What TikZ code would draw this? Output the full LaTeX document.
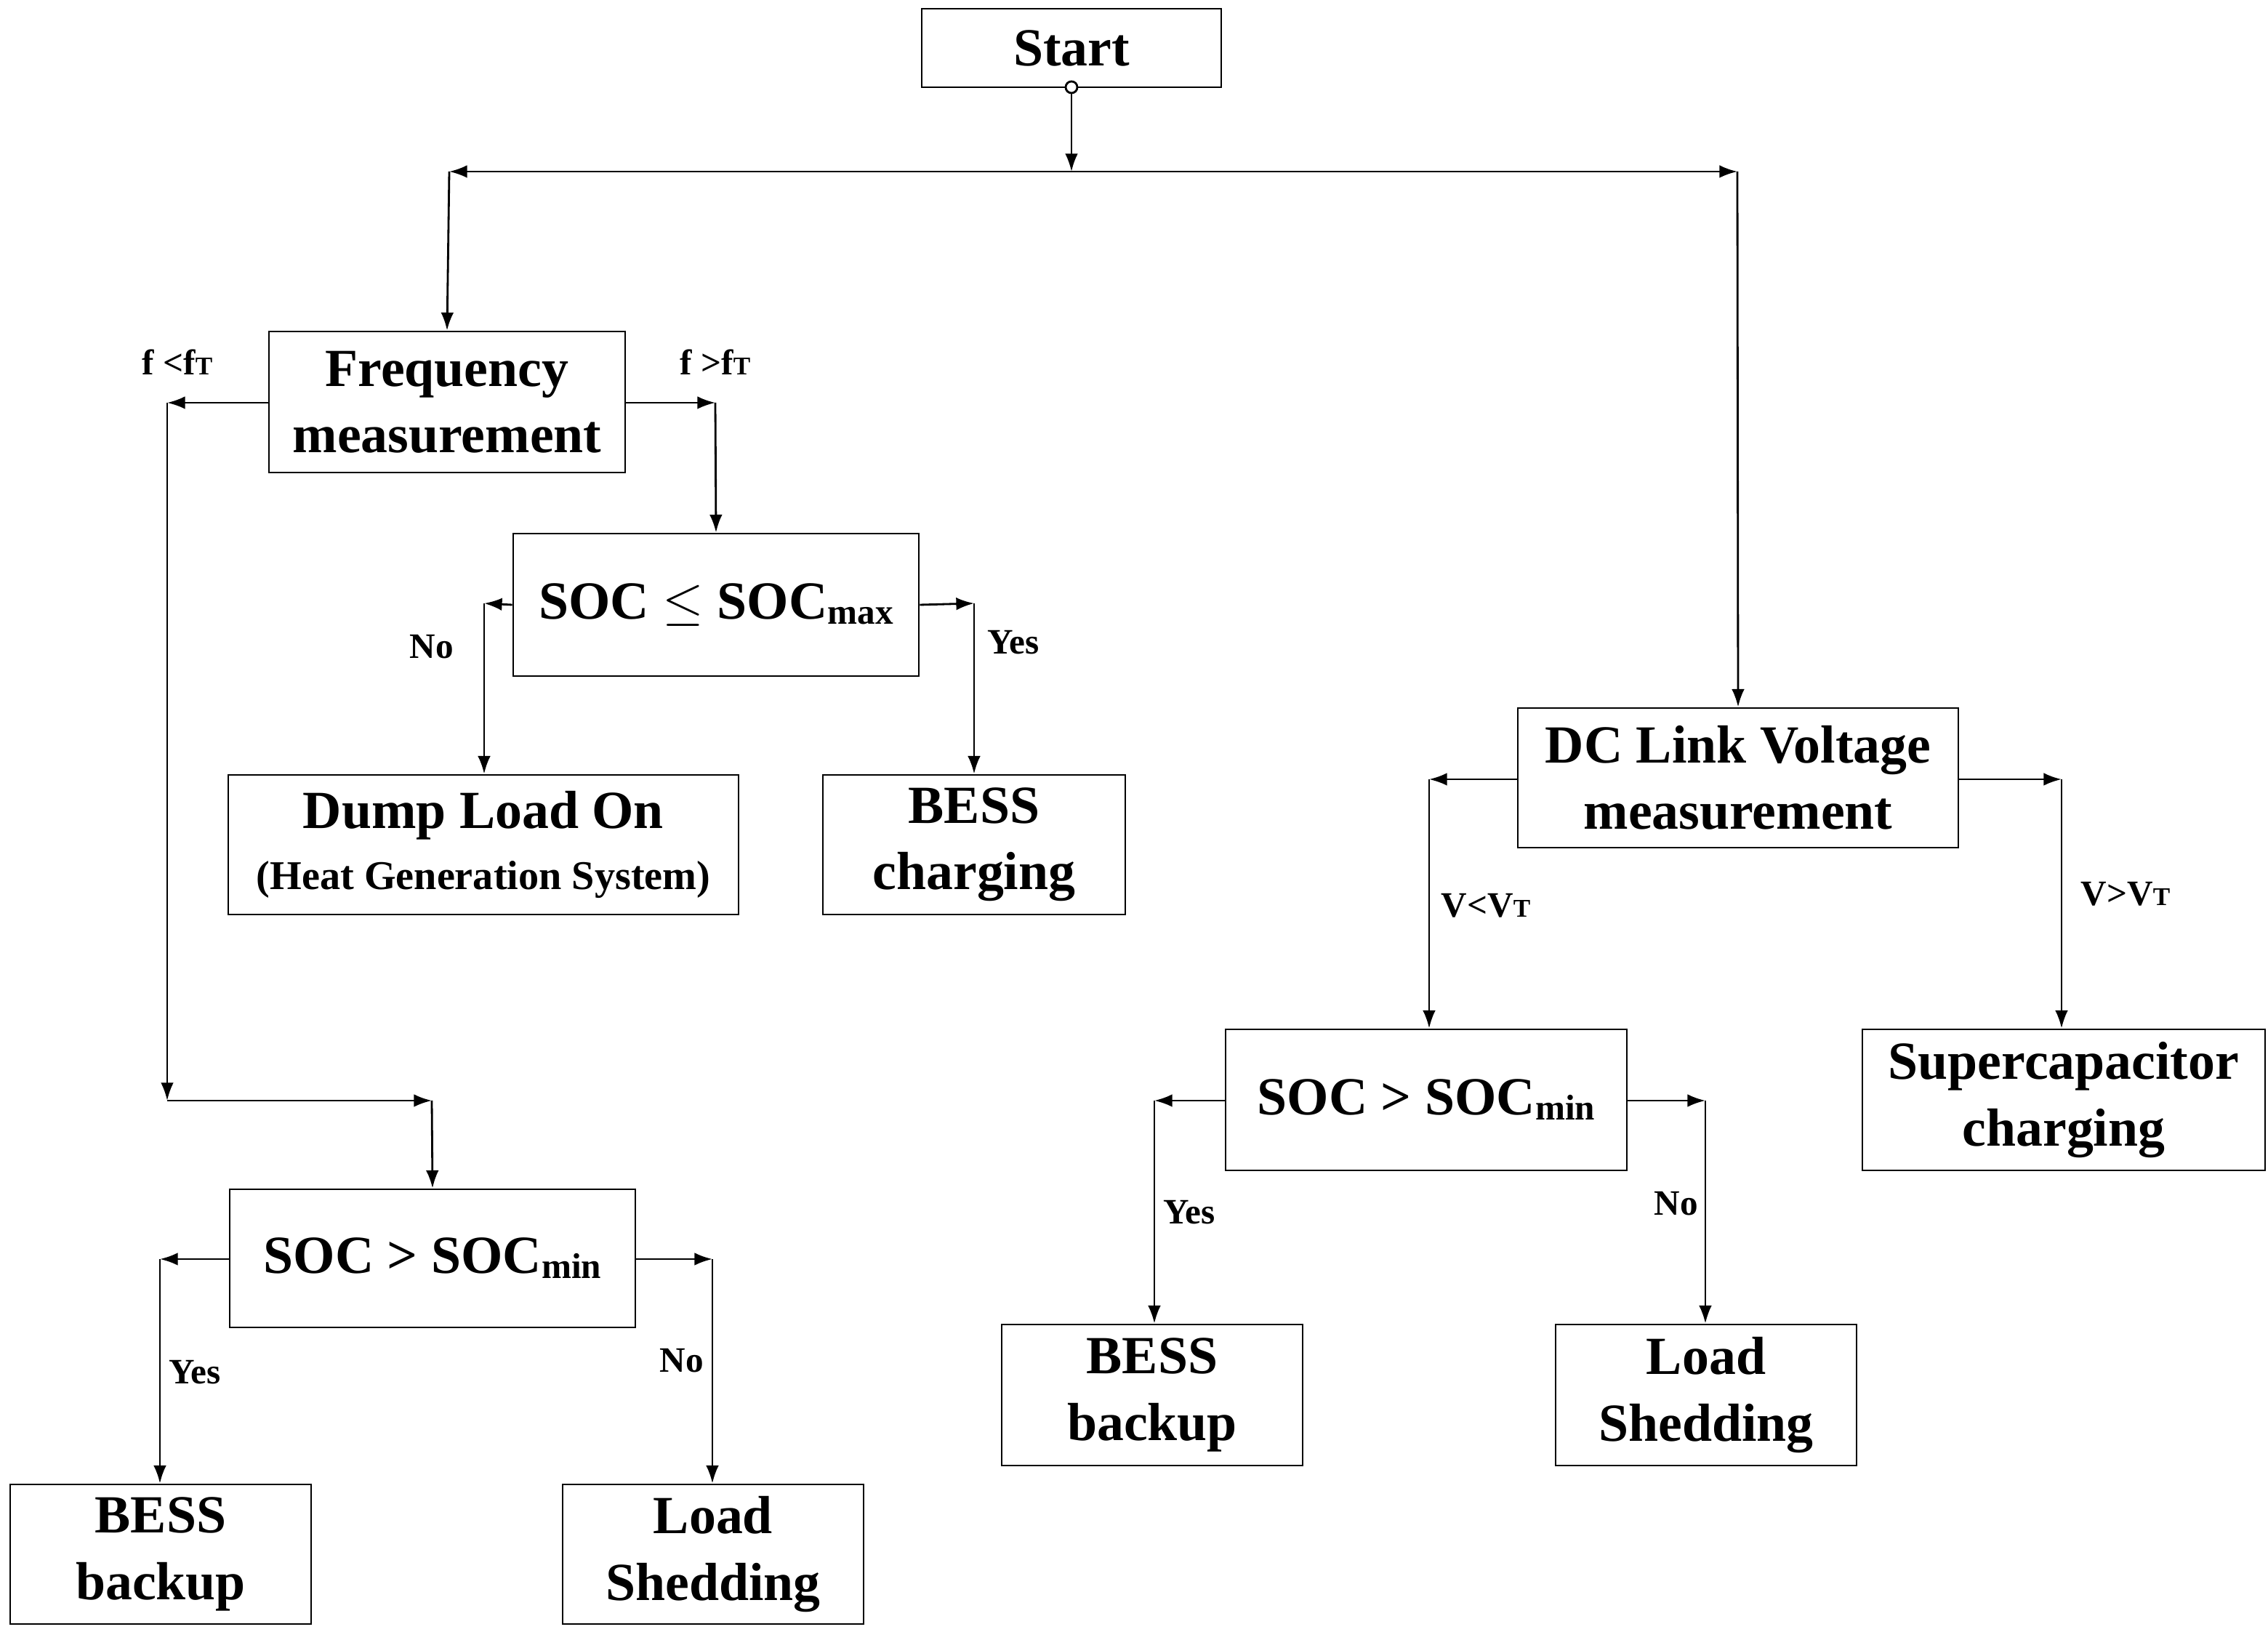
\documentclass[tikz,border=0pt]{standalone}
\usepackage{fontspec}
\setmainfont{Liberation Serif}
\usetikzlibrary{arrows.meta}
\begin{document}
\begin{tikzpicture}[x=0.02cm,y=-0.02cm,
  box/.style={draw,line width=0.8pt,fill=white,align=center,inner sep=0pt,font=\fontsize{21}{26}\selectfont\bfseries},
  lbl/.style={font=\fontsize{14}{16}\selectfont\bfseries,inner sep=0pt},
  ar/.style={-{Latex[length=7pt,width=5pt]},line width=0.8pt},
  ln/.style={line width=0.8pt}]
\useasboundingbox (0,0) rectangle (1560,1122.5);
\newcommand{\bx}[6]{\node[box,minimum width={(#4-#2)*0.02cm},minimum height={(#5-#3)*0.02cm}] (#1) at ({(#2+#4)/2},{(#3+#5)/2}) {#6};}
\bx{start}{634}{6}{840}{60}{Start}
\bx{freq}{185}{228}{430}{325}{Frequency\\measurement}
\bx{socmax}{353}{367}{632}{465}{SOC $\leq$ SOC{\fontsize{14}{16}\selectfont\raisebox{-2pt}{max}}}
\bx{dump}{157}{533}{508}{629}{Dump Load On\\[-2pt]{\fontsize{16}{20}\selectfont(Heat Generation System)}}
\bx{bchg}{566}{533}{774}{629}{BESS\\charging}
\bx{socl}{158}{818}{437}{913}{SOC > SOC{\fontsize{14}{16}\selectfont\raisebox{-2pt}{min}}}
\bx{bbl}{7}{1021}{214}{1117}{BESS\\backup}
\bx{lsl}{387}{1021}{594}{1117}{Load\\Shedding}
\bx{dc}{1044}{487}{1347}{583}{DC Link Voltage\\measurement}
\bx{socr}{843}{708}{1119}{805}{SOC > SOC{\fontsize{14}{16}\selectfont\raisebox{-2pt}{min}}}
\bx{bbr}{689}{911}{896}{1008}{BESS\\backup}
\bx{lsr}{1070}{911}{1277}{1008}{Load\\Shedding}
\bx{sc}{1281}{708}{1558}{805}{Supercapacitor\\charging}
% coordinates
\coordinate (s1) at (737,118);
\coordinate (hl) at (309,118);
\coordinate (hr) at (1195,118);
\coordinate (fl) at (115,277);
\coordinate (fld) at (115,757);
\coordinate (flr) at (297,757);
\coordinate (fr) at (492,277);
\coordinate (ml) at (333,415);
\coordinate (mr) at (670,415);
\coordinate (sll) at (110,866);
\coordinate (slr) at (490,866);
\coordinate (dl) at (983,536);
\coordinate (dr) at (1418,536);
\coordinate (srl) at (794,757);
\coordinate (srr) at (1173,757);
% start
\draw[ar] (start.south) ++(0,0) -- (s1);
\draw[line width=0.8pt,fill=white] (737,60) circle (4);
\draw[ar] (s1) -- (hl);
\draw[ar] (s1) -- (hr);
\draw[ar] (hl) -- (freq.north);
\draw[ar] (hr) -- (dc.north);
% frequency
\draw[ar] (freq.west |- fl) -- (fl);
\draw[ar] (fl) -- (fld);
\draw[ar] (fld) -- (flr);
\draw[ar] (flr) -- (socl.north);
\draw[ar] (freq.east |- fr) -- (fr);
\draw[ar] (fr) -- (socmax.north);
\draw[ar] (socmax.west) -- (ml);
\draw[ar] (ml) -- (dump.north -| ml);
\draw[ar] (socmax.east) -- (mr);
\draw[ar] (mr) -- (bchg.north);
\draw[ar] (socl.west |- sll) -- (sll);
\draw[ar] (sll) -- (bbl.north -| sll);
\draw[ar] (socl.east |- slr) -- (slr);
\draw[ar] (slr) -- (lsl.north -| slr);
% dc
\draw[ar] (dc.west |- dl) -- (dl);
\draw[ar] (dl) -- (socr.north -| dl);
\draw[ar] (dc.east |- dr) -- (dr);
\draw[ar] (dr) -- (sc.north -| dr);
\draw[ar] (socr.west |- srl) -- (srl);
\draw[ar] (srl) -- (bbr.north -| srl);
\draw[ar] (socr.east |- srr) -- (srr);
\draw[ar] (srr) -- (lsr.north -| srr);
% labels
\node[lbl] (l1) at (122,249) {f <f{\fontsize{10}{12}\selectfont T}};
\node[lbl] (l2) at (492,249) {f >f{\fontsize{10}{12}\selectfont T}};
\node[lbl] (l3) at (297,445) {No};
\node[lbl] (l4) at (697,442) {Yes};
\node[lbl] (l5) at (134,944) {Yes};
\node[lbl] (l6) at (469,936) {No};
\node[lbl] (l7) at (1022,623) {V<V{\fontsize{10}{12}\selectfont T}};
\node[lbl] (l8) at (1462,615) {V>V{\fontsize{10}{12}\selectfont T}};
\node[lbl] (l9) at (818,834) {Yes};
\node[lbl] (l10) at (1153,828) {No};
\end{tikzpicture}
\end{document}
